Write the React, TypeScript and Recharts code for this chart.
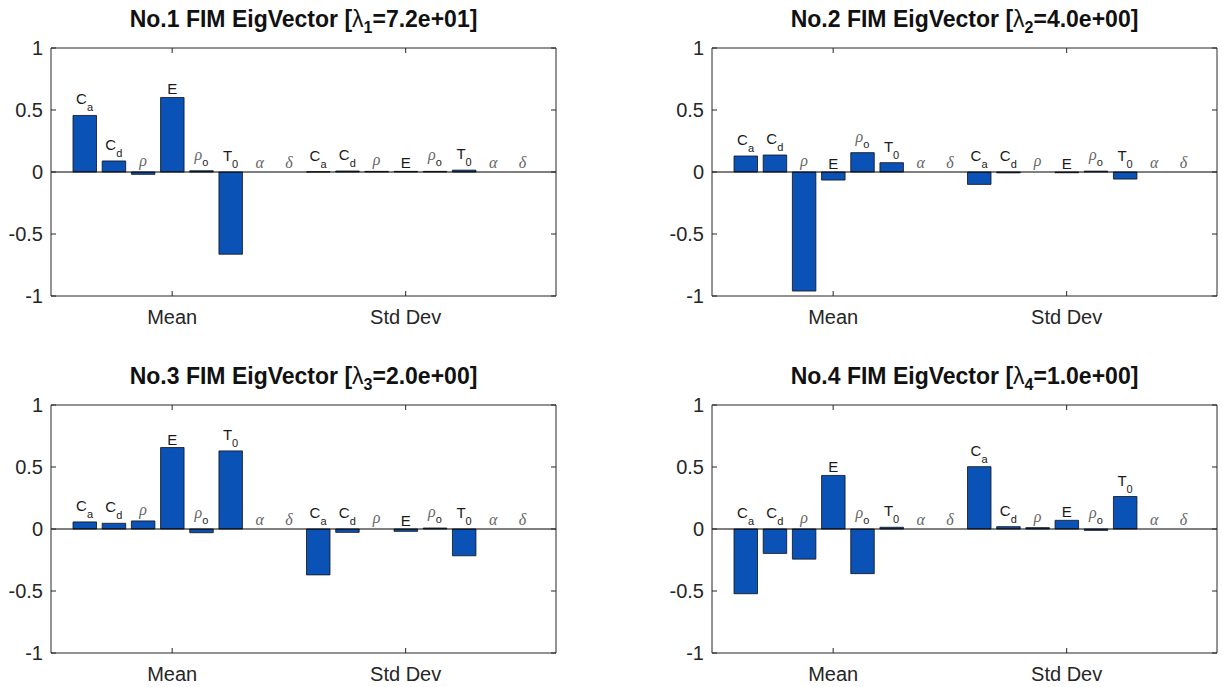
import React from "react";
import {Bar, BarChart, ReferenceDot, ReferenceLine, XAxis, YAxis} from "recharts";

// parameter order on the x axis: 8 "Mean" parameters, then the same 8 as "Std Dev"
const paramKeys = ["Ca", "Cd", "rho", "E", "rhoo", "T0", "alpha", "delta",
                   "Ca", "Cd", "rho", "E", "rhoo", "T0", "alpha", "delta"];
const groupTicks = [4, 12];
const groupNames = ["Mean", "Std Dev"];
const yTicks = [-1, -0.5, 0, 0.5, 1];

const vec1 = [0.456, 0.089, -0.019, 0.601, 0.01, -0.663, 0, 0, 0.002, 0.008, 0.005, 0.005, 0.005, 0.015, 0, 0];
const vec2 = [0.129, 0.137, -0.96, -0.065, 0.156, 0.075, 0, 0, -0.1, -0.007, 0, -0.006, 0.007, -0.057, 0, 0];
const vec3 = [0.057, 0.046, 0.065, 0.657, -0.03, 0.63, 0, 0, -0.37, -0.027, 0, -0.019, 0.008, -0.216, 0, 0];
const vec4 = [-0.522, -0.197, -0.243, 0.432, -0.36, 0.014, 0, 0, 0.503, 0.019, 0.011, 0.07, -0.011, 0.262, 0, 0];
const eigenvalues = ["7.2e+01", "4.0e+00", "2.0e+00", "1.0e+00"];
const vectors = [vec1, vec2, vec3, vec4];

const SANS = "'Liberation Sans', Arial, Helvetica, sans-serif";
const SERIF = "'Liberation Serif', 'Times New Roman', serif";
const AXIS = "#262626";
const BAR_BLUE = "#0a52b5";

// text label drawn just above the top of a bar (or above the zero line for negative bars)
const ParamLabel = ({cx, cy, name}: {cx?: number; cy?: number; name: string}) => {
    if (cx == null || cy == null) return null;
    const sans = {fontFamily: SANS, fill: "#1a1a1a"};
    const greek = {fontFamily: SERIF, fontStyle: "italic", fill: "#666", fontSize: 16};

    switch (name) {
        case "Ca":
        case "Cd":
        case "T0":
            return (
                <text x={cx} y={cy - 11} textAnchor="middle" fontSize={15} {...sans}>
                    <tspan>{name[0]}</tspan>
                    <tspan fontSize={11} dy={7}>{name.slice(1)}</tspan>
                </text>
            );
        case "E":
            return <text x={cx} y={cy - 3} textAnchor="middle" fontSize={15} {...sans}>E</text>;
        case "rho":
            return <text x={cx} y={cy - 6} textAnchor="middle" {...greek}>ρ</text>;
        case "rhoo":
            return (
                <text x={cx} y={cy - 11} textAnchor="middle" {...greek}>
                    <tspan>ρ</tspan>
                    <tspan fontFamily={SANS} fontStyle="normal" fill="#1a1a1a" fontSize={11} dy={6}>o</tspan>
                </text>
            );
        case "alpha":
            return <text x={cx} y={cy - 4} textAnchor="middle" {...greek}>α</text>;
        case "delta":
            return <text x={cx} y={cy - 4} textAnchor="middle" {...greek}>δ</text>;
        default:
            return null;
    }
};

interface PanelProps {
    no: number;
    values: number[];
    lambda: string;
    left: number;
    top: number;
}

const Panel: React.FC<PanelProps> = ({no, values, lambda, left, top}) => {
    const data = values.map((v, i) => ({id: i + 1, v, name: paramKeys[i]}));
    return (
        <div style={{position: "absolute", left, top, width: 562, height: 340}}>
            <div style={{
                position: "absolute", left: 51, top: 6, width: 505, textAlign: "center",
                fontFamily: SANS, fontWeight: 700, fontSize: 23, lineHeight: "26px", color: "#111",
                whiteSpace: "nowrap"
            }}>
                No.{no} FIM EigVector [<span style={{fontWeight: 400}}>λ</span>
                <span style={{fontSize: 16, position: "relative", top: 6}}>{no}</span>={lambda}]
            </div>
            <BarChart width={562} height={340} data={data}
                      margin={{top: 38, right: 0, bottom: 0, left: 0}}>
                <XAxis xAxisId="x" dataKey="id" type="category"
                       ticks={groupTicks} interval={0}
                       tickFormatter={(v) => groupNames[groupTicks.indexOf(v)] ?? ""}
                       padding={{left: 19, right: 19}}
                       height={44} tickSize={-5} tickMargin={19}
                       stroke={AXIS}
                       tick={{fontSize: 20, fill: AXIS, fontFamily: SANS}}
                />
                <XAxis xAxisId="top" orientation="top" dataKey="id" type="category"
                       ticks={groupTicks} interval={0}
                       tickFormatter={() => ""}
                       padding={{left: 19, right: 19}}
                       height={10} tickSize={-5}
                       stroke={AXIS}
                />
                <YAxis yAxisId="y" type="number" domain={[-1, 1]} ticks={yTicks}
                       allowDataOverflow interval={0}
                       width={51} tickSize={-5} tickMargin={13}
                       stroke={AXIS}
                       tick={{fontSize: 20, fill: AXIS, fontFamily: SANS}}
                />
                <YAxis yAxisId="r" orientation="right" type="number" domain={[-1, 1]} ticks={yTicks}
                       allowDataOverflow interval={0}
                       width={6} tickSize={-5}
                       tickFormatter={() => ""}
                       stroke={AXIS}
                />
                <Bar dataKey="v" xAxisId="x" yAxisId="y"
                     fill={BAR_BLUE} stroke="#111" strokeWidth={0.8}
                     barSize={23.5}
                     isAnimationActive={false}/>
                <ReferenceLine y={0} xAxisId="x" yAxisId="y" stroke="#000" strokeWidth={1}/>
                {data.map((d) => (
                    <ReferenceDot key={d.id} x={d.id} y={Math.max(d.v, 0)}
                                  xAxisId="x" yAxisId="y" r={0}
                                  shape={(p: any) => <ParamLabel cx={p.cx} cy={p.cy} name={d.name}/>}
                    />
                ))}
            </BarChart>
        </div>
    );
}

export default function App() {
    return (
        <div style={{
            position: "absolute", left: 0, top: 0, width: 1222, height: 687,
            overflow: "hidden", background: "#fff"
        }}>
            {vectors.map((values, i) => (
                <Panel key={i}
                       no={i + 1}
                       values={values}
                       lambda={eigenvalues[i]}
                       left={i % 2 ? 661 : 0}
                       top={i < 2 ? 0 : 357}
                />
            ))}
        </div>
    );
}
